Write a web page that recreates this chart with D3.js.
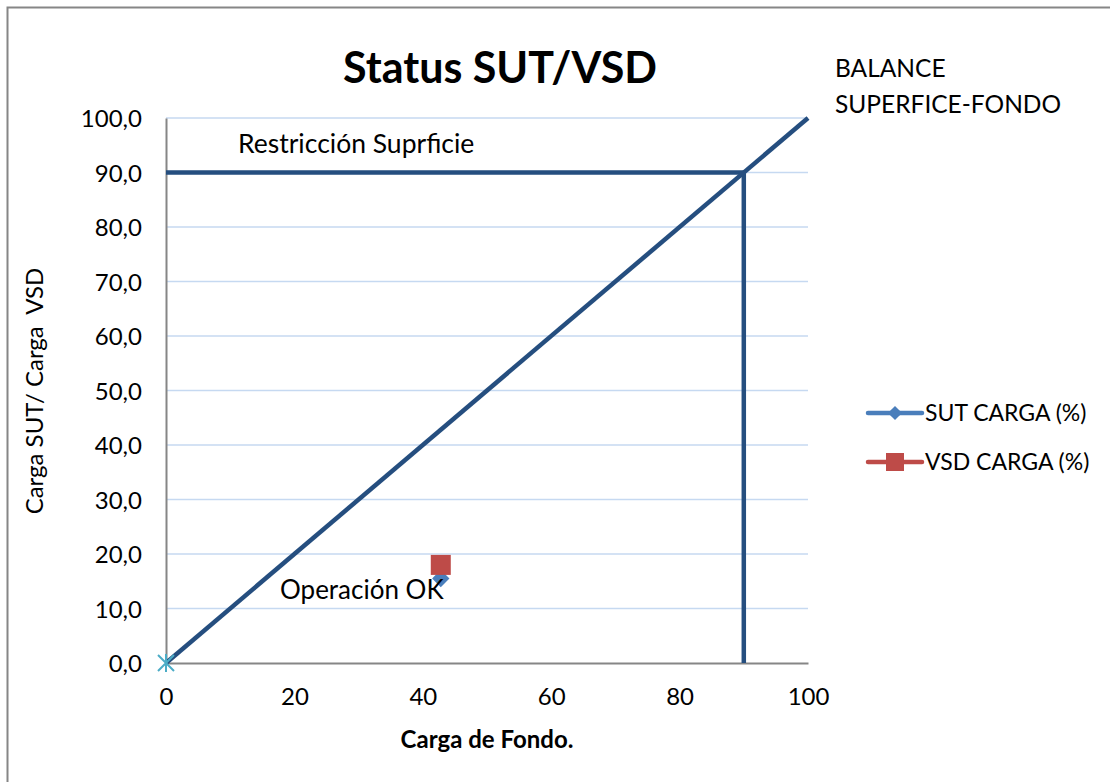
<!DOCTYPE html>
<html>
<head>
<meta charset="utf-8">
<script src="https://cdn.jsdelivr.net/npm/d3@7"></script>
<style>
  html, body { margin: 0; padding: 0; background: #fff; }
  svg { display: block; }
  text { font-family: Lato, "Open Sans", sans-serif; fill: #000; }
</style>
</head>
<body>
<svg id="chart" width="1110" height="782"></svg>
<script>
// Chart data
const xTicks = [0, 20, 40, 60, 80, 100];
const yTicks = [0, 10, 20, 30, 40, 50, 60, 70, 80, 90, 100];

// Balance line surface vs. bottom load
const balanceX = [0, 100];
const balanceY = [0, 100];

// Surface restriction (horizontal at 90 then down to the axis)
const restrictionX = [0, 90, 90];
const restrictionY = [90, 90, 0];

// Operating point
const sutX = [42.8];
const sutY = [15.5];
const vsdX = [42.8];
const vsdY = [18.0];

// Origin reference marker
const originX = [0];
const originY = [0];

const legendNames = ["SUT CARGA (%)", "VSD CARGA (%)"];

const svg = d3.select("#chart");
const W = 1110, H = 782;

// Outer frame
svg.append("rect")
  .attr("x", 7.5).attr("y", 7.5)
  .attr("width", W + 20).attr("height", H + 20)
  .attr("fill", "#fff").attr("stroke", "#868686").attr("stroke-width", 2);

const x = d3.scaleLinear().domain([0, 100]).range([166, 808]);
const y = d3.scaleLinear().domain([0, 100]).range([663, 118]);

// Horizontal gridlines
svg.append("g")
  .selectAll("line")
  .data(yTicks.filter(d => d > 0))
  .join("line")
  .attr("x1", x(0)).attr("x2", x(100))
  .attr("y1", d => y(d)).attr("y2", d => y(d))
  .attr("stroke", "#C6D9F1").attr("stroke-width", 1.5);

// Y axis
const yAxis = d3.axisLeft(y).tickValues(yTicks).tickSize(0).tickPadding(24)
  .tickFormat(d => d3.format(".1f")(d).replace(".", ","));
const gy = svg.append("g").attr("transform", `translate(${x(0)},0)`).call(yAxis);
gy.select(".domain").attr("stroke", "#868686").attr("stroke-width", 2);
gy.selectAll("text").style("font-size", "24px").attr("dy", "0.36em");

// X axis
const xAxis = d3.axisBottom(x).tickValues(xTicks).tickSize(0).tickPadding(25)
  .tickFormat(d3.format("d"));
const gx = svg.append("g").attr("transform", `translate(0,${y(0)})`).call(xAxis);
gx.select(".domain").attr("stroke", "#868686").attr("stroke-width", 2);
gx.selectAll("text").style("font-size", "24px");

const line = d3.line().x(d => x(d[0])).y(d => y(d[1]));

// Balance diagonal
svg.append("path")
  .datum(balanceX.map((v, i) => [v, balanceY[i]]))
  .attr("d", line)
  .attr("fill", "none").attr("stroke", "#254E7F").attr("stroke-width", 4.5);

// Restriction lines
svg.append("path")
  .datum(restrictionX.map((v, i) => [v, restrictionY[i]]))
  .attr("d", line)
  .attr("fill", "none").attr("stroke", "#254E7F").attr("stroke-width", 4.5);

// Origin star marker
const star = svg.append("g");
originX.forEach((v, i) => {
  const cx = x(v), cy = y(originY[i]), r = 8;
  star.append("path")
    .attr("d", `M${cx - r},${cy - r}L${cx + r},${cy + r}M${cx - r},${cy + r}L${cx + r},${cy - r}M${cx},${cy - r - 1}L${cx},${cy + r + 1}`)
    .attr("stroke", "#4BACC6").attr("stroke-width", 2).attr("fill", "none");
});

// SUT diamond marker
svg.append("g").selectAll("path")
  .data(sutX.map((v, i) => [v, sutY[i]]))
  .join("path")
  .attr("transform", d => `translate(${x(d[0])},${y(d[1])}) rotate(45)`)
  .attr("d", d3.symbol().type(d3.symbolSquare).size(150))
  .attr("fill", "#4A7EBB");

// VSD square marker
svg.append("g").selectAll("rect")
  .data(vsdX.map((v, i) => [v, vsdY[i]]))
  .join("rect")
  .attr("x", d => x(d[0]) - 10).attr("y", d => y(d[1]) - 10)
  .attr("width", 20).attr("height", 20)
  .attr("fill", "#BE4B48");

// Annotations
svg.append("text").attr("x", 238).attr("y", 153)
  .style("font-size", "26.5px").text("Restricción Suprficie");
svg.append("text").attr("x", 280).attr("y", 599)
  .style("font-size", "26px").text("Operación OK");
svg.append("text").attr("x", 835).attr("y", 77)
  .style("font-size", "24.5px").text("BALANCE");
svg.append("text").attr("x", 835).attr("y", 113)
  .style("font-size", "24.5px").text("SUPERFICE-FONDO");

// Title
svg.append("text").attr("x", 500).attr("y", 83)
  .attr("text-anchor", "middle")
  .style("font-size", "43px").style("font-weight", "bold")
  .text("Status SUT/VSD");

// Axis titles
svg.append("text").attr("x", 487).attr("y", 748)
  .attr("text-anchor", "middle")
  .style("font-size", "24px").style("font-weight", "bold")
  .text("Carga de Fondo.");
svg.append("text")
  .attr("transform", "translate(43,391) rotate(-90)")
  .attr("text-anchor", "middle")
  .style("font-size", "24px").style("white-space", "pre")
  .attr("xml:space", "preserve")
  .text("Carga SUT/ Carga  VSD");

// Legend
const legendColors = ["#4A7EBB", "#BE4B48"];
const lg = svg.append("g");
legendNames.forEach((name, i) => {
  const ly = 413 + i * 49;
  lg.append("line").attr("x1", 868).attr("x2", 922).attr("y1", ly).attr("y2", ly)
    .attr("stroke", legendColors[i]).attr("stroke-width", 4.5).attr("stroke-linecap", "round");
  if (i === 0) {
    lg.append("path").attr("transform", `translate(895,${ly}) rotate(45)`)
      .attr("d", d3.symbol().type(d3.symbolSquare).size(100))
      .attr("fill", legendColors[i]);
  } else {
    lg.append("rect").attr("x", 886).attr("y", ly - 9).attr("width", 18).attr("height", 18)
      .attr("fill", legendColors[i]);
  }
  lg.append("text").attr("x", 925).attr("y", ly + 8)
    .style("font-size", "23px").text(name);
});
</script>
</body>
</html>
